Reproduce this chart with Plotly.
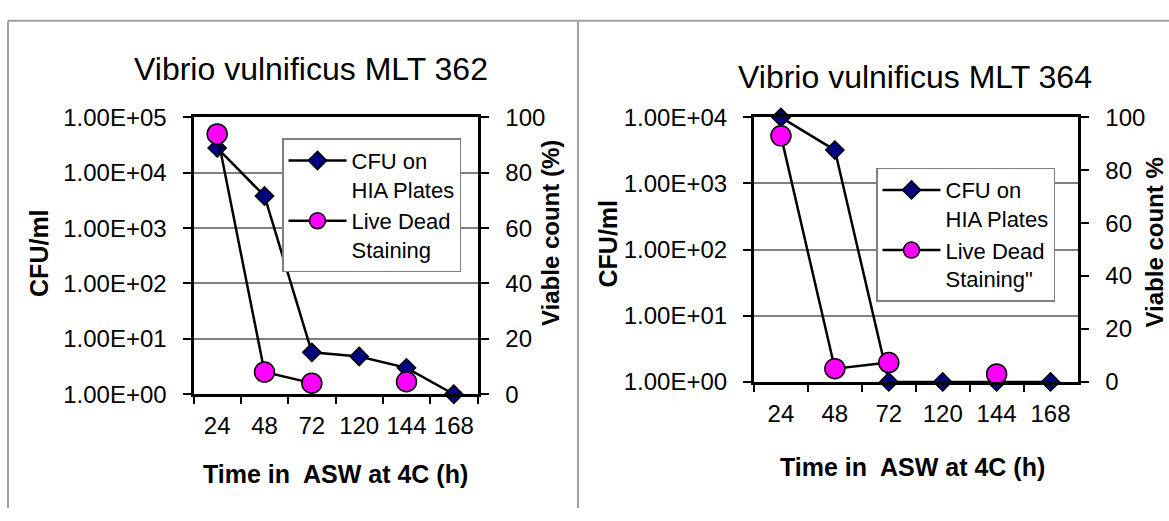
import plotly.graph_objects as go

W, H = 1169, 521

# ---- data ----
times = ["24", "48", "72", "120", "144", "168"]
cfu_362 = [2.8e4, 3.8e3, 5.7, 4.8, 3.0, 1.0]
live_362 = [94, 8, 4, None, 4.5, None]
cfu_364 = [1.0e4, 3.2e3, 1.0, 1.0, 1.0, 1.0]
live_364 = [93, 5, 7.3, None, 3, None]
log_ticks_362 = [1, 10, 100, 1000, 1e4, 1e5]
log_labels_362 = ["1.00E+00", "1.00E+01", "1.00E+02", "1.00E+03", "1.00E+04", "1.00E+05"]
log_ticks_364 = [1, 10, 100, 1000, 1e4]
log_labels_364 = ["1.00E+00", "1.00E+01", "1.00E+02", "1.00E+03", "1.00E+04"]
pct_ticks = [0, 20, 40, 60, 80, 100]

FONT = "Liberation Sans, Arial, sans-serif"
NAVY = "#000080"
MAG = "#FF00FF"

def px(x):
    return x / W

def py(y):
    return 1 - y / H

fig = go.Figure()

def cfu_trace(y, xa, ya, leg, show):
    return go.Scatter(x=times, y=y, xaxis=xa, yaxis=ya, mode="lines+markers",
                      name="CFU on<br>HIA Plates", legend=leg, showlegend=show,
                      line=dict(color="black", width=2.5),
                      marker=dict(symbol="diamond", size=14, color=NAVY,
                                  line=dict(color="black", width=1.5)),
                      cliponaxis=False, connectgaps=False)

def live_trace(y, xa, ya, leg, name):
    return go.Scatter(x=times, y=y, xaxis=xa, yaxis=ya, mode="lines+markers",
                      name=name, legend=leg,
                      line=dict(color="black", width=2.5),
                      marker=dict(symbol="circle", size=20, color=MAG,
                                  line=dict(color="black", width=1.5)),
                      cliponaxis=False, connectgaps=False)

fig.add_trace(cfu_trace(cfu_362, "x", "y", "legend", True))
fig.add_trace(live_trace(live_362, "x", "y2", "legend", "Live Dead<br>Staining"))
fig.add_trace(cfu_trace(cfu_364, "x2", "y3", "legend2", True))
fig.add_trace(live_trace(live_364, "x2", "y4", "legend2", "Live Dead<br>Staining\""))

tickfont_y = dict(family=FONT, size=24, color="black")
tickfont_x = dict(family=FONT, size=24, color="black")

def xax(domain, anchor):
    return dict(domain=domain, anchor=anchor, type="category", range=[-0.5, 5.5],
                showline=True, linecolor="black", linewidth=3, mirror=True,
                ticks="outside", tickson="boundaries", ticklen=7, tickwidth=1.5,
                tickcolor="black", showgrid=False, tickfont=tickfont_x,
                tickangle=0, ticklabelstandoff=8, fixedrange=True)

def yax_log(domain, anchor, rng, tv, tt):
    return dict(domain=domain, anchor=anchor, type="log", range=rng,
                tickvals=tv, ticktext=tt, showline=True, linecolor="black",
                linewidth=3, mirror=True, ticks="outside", ticklen=8,
                tickwidth=1.5, tickcolor="black", showgrid=True,
                gridcolor="#808080", gridwidth=1.5, tickfont=tickfont_y,
                ticklabelstandoff=11, zeroline=False)

def yax_pct(overlay, anchor):
    return dict(overlaying=overlay, anchor=anchor, side="right", range=[0, 100],
                tickvals=pct_ticks, showline=True, linecolor="black", linewidth=3,
                ticks="outside", ticklen=8, tickwidth=1.5, tickcolor="black",
                showgrid=False, zeroline=False, tickfont=tickfont_y,
                ticklabelstandoff=12)

legend_common = dict(xanchor="left", yanchor="top", bgcolor="white",
                     bordercolor="#808080", borderwidth=1.5,
                     font=dict(family=FONT, size=22, color="black"), valign="top",
                     tracegroupgap=4, itemwidth=58)

fig.update_layout(
    width=W, height=H,
    margin=dict(l=0, r=0, t=0, b=0),
    paper_bgcolor="white", plot_bgcolor="white",
    font=dict(family=FONT, color="black"),
    xaxis=xax([px(193.5), px(477.5)], "y"),
    yaxis=yax_log([py(401), py(109)], "x", [0, 5], log_ticks_362, log_labels_362),
    yaxis2=yax_pct("y", "x"),
    xaxis2=xax([px(754), px(1077.5)], "y3"),
    yaxis3=yax_log([py(388), py(109)], "x2", [0, 4], log_ticks_364, log_labels_364),
    yaxis4=yax_pct("y3", "x2"),
    legend=dict(x=px(282), y=py(131), **legend_common),
    legend2=dict(x=px(876), y=py(162), **legend_common),
)

def ann(text, x, y, size, bold=False, angle=0):
    fig.add_annotation(text=("<b>%s</b>" % text) if bold else text,
                       x=px(x), y=py(y), xref="paper", yref="paper",
                       xanchor="center", yanchor="middle", showarrow=False,
                       textangle=angle, font=dict(family=FONT, size=size, color="black"))

ann("Vibrio vulnificus MLT 362", 311, 58, 32)
ann("Vibrio vulnificus MLT 364", 915, 66, 32)
ann("CFU/ml", 39, 252, 25, True, -90)
ann("CFU/ml", 608, 242, 25, True, -90)
ann("Viable count (%)", 550, 231, 24, True, -90)
ann("Viable count %", 1155, 241, 24, True, -90)
ann("Time in  ASW at 4C (h)", 335.5, 485, 25, True)
ann("Time in  ASW at 4C (h)", 912, 478, 25, True)

# outer frame lines of the figure panels
for x0, y0, x1, y1 in [(8, 7, W, 7), (8, 7, 8, H), (578, 7, 578, H)]:
    fig.add_shape(type="line", xref="paper", yref="paper",
                  x0=px(x0), y0=py(y0), x1=px(x1), y1=py(y1),
                  line=dict(color="#a0a0a0", width=2))

fig.write_html("out.html",
               config={"displayModeBar": False},
               post_script="document.body.style.margin='0';document.body.style.overflow='hidden';")
